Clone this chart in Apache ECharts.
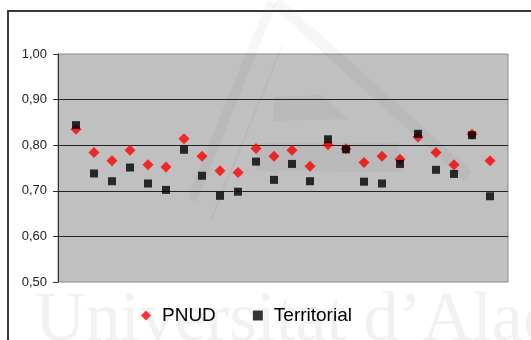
<!DOCTYPE html>
<html>
<head>
<meta charset="utf-8">
<script src="https://cdn.jsdelivr.net/npm/echarts@6/dist/echarts.min.js"></script>
<style>
  html, body { margin: 0; padding: 0; background: #ffffff; }
  #chart { width: 531px; height: 340px; }
</style>
</head>
<body>
<div id="chart"></div>
<script>
// Observation number (1..24) on the horizontal scale
const positions = [1, 2, 3, 4, 5, 6, 7, 8, 9, 10, 11, 12, 13, 14, 15, 16, 17, 18, 19, 20, 21, 22, 23, 24];

// Index values for each observation
const pnud = [0.835, 0.784, 0.766, 0.789, 0.757, 0.752, 0.814, 0.776, 0.744, 0.740, 0.793, 0.776,
              0.789, 0.754, 0.801, 0.792, 0.762, 0.776, 0.769, 0.818, 0.784, 0.757, 0.824, 0.766];
const territorial = [0.844, 0.738, 0.721, 0.751, 0.716, 0.702, 0.790, 0.733, 0.689, 0.698, 0.764, 0.724,
                     0.759, 0.721, 0.813, 0.791, 0.720, 0.716, 0.759, 0.825, 0.746, 0.737, 0.822, 0.688];

const seriesNames = ['PNUD', 'Territorial'];
const yTicks = { min: 0.5, max: 1.0, step: 0.1 };

const pairs = (vals) => vals.map((v, i) => [positions[i], v]);

// faint institutional watermark laid over the page
const shade = 'rgba(0,0,0,0.035)';
const watermark = [
  {
    type: 'text', z: -10, left: 35, top: 287, silent: true,
    style: { text: 'Universitat d\u2019Alacant', font: '70px "Liberation Serif", "DejaVu Serif", serif', fill: '#f1f1f1' }
  },
  { type: 'polyline', z: 50, silent: true, shape: { points: [[272, 2], [192, 200]] }, style: { stroke: shade, lineWidth: 10, fill: 'none' } },
  { type: 'polyline', z: 50, silent: true, shape: { points: [[276, 2], [468, 176]] }, style: { stroke: shade, lineWidth: 12, fill: 'none' } },
  { type: 'polyline', z: 50, silent: true, shape: { points: [[283, 44], [210, 222]] }, style: { stroke: shade, lineWidth: 2, fill: 'none' } },
  { type: 'polygon', z: 50, silent: true, shape: { points: [[274, 97], [322, 95], [348, 119], [273, 121]] }, style: { fill: shade } },
  { type: 'polygon', z: 50, silent: true, shape: { points: [[258, 143], [398, 142], [404, 172], [255, 171]] }, style: { fill: shade } }
];

const chart = echarts.init(document.getElementById('chart'), null, { renderer: 'canvas' });

chart.setOption({
  backgroundColor: '#ffffff',
  animation: false,
  textStyle: { fontFamily: '"Liberation Sans", Arial, sans-serif' },
  graphic: watermark.concat([
    {
      type: 'rect',
      z: 60,
      silent: true,
      shape: { x: 8, y: 11, width: 600, height: 400 },
      style: { fill: 'none', stroke: '#3a3a3a', lineWidth: 2 }
    }
  ]),
  grid: {
    left: 58,
    top: 54,
    right: 23,
    bottom: 58,
    show: true,
    backgroundColor: '#c0c0c0',
    borderColor: '#8a8a8a',
    borderWidth: 1
  },
  legend: {
    left: 136,
    top: 301,
    itemGap: 37,
    itemWidth: 10,
    itemHeight: 10,
    textStyle: {
      fontSize: 19,
      color: '#000000',
      padding: [0, 0, 0, 6],
      fontFamily: '"Liberation Sans", Arial, sans-serif'
    },
    data: [
      { name: seriesNames[0], icon: 'diamond', itemStyle: { color: '#ff0000' } },
      { name: seriesNames[1], icon: 'rect', itemStyle: { color: '#000000' } }
    ]
  },
  xAxis: {
    type: 'value',
    min: 0,
    max: 25,
    show: false
  },
  yAxis: {
    type: 'value',
    min: yTicks.min,
    max: yTicks.max,
    interval: yTicks.step,
    axisLine: { show: true, lineStyle: { color: '#333333', width: 1 } },
    axisTick: { show: true, length: 5, inside: false, lineStyle: { color: '#333333' } },
    axisLabel: {
      fontSize: 13,
      color: '#222222',
      margin: 11,
      formatter: (v) => v.toFixed(2).replace('.', ',')
    },
    splitLine: {
      show: true,
      showMinLine: false,
      showMaxLine: false,
      lineStyle: { color: '#222222', width: 1 }
    }
  },
  series: [
    {
      name: seriesNames[0],
      type: 'scatter',
      symbol: 'diamond',
      symbolSize: 11,
      itemStyle: { color: '#ff0000' },
      data: pairs(pnud),
      z: 2
    },
    {
      name: seriesNames[1],
      type: 'scatter',
      symbol: 'rect',
      symbolSize: 8,
      itemStyle: { color: '#000000' },
      data: pairs(territorial),
      z: 3
    }
  ]
});
</script>
</body>
</html>
